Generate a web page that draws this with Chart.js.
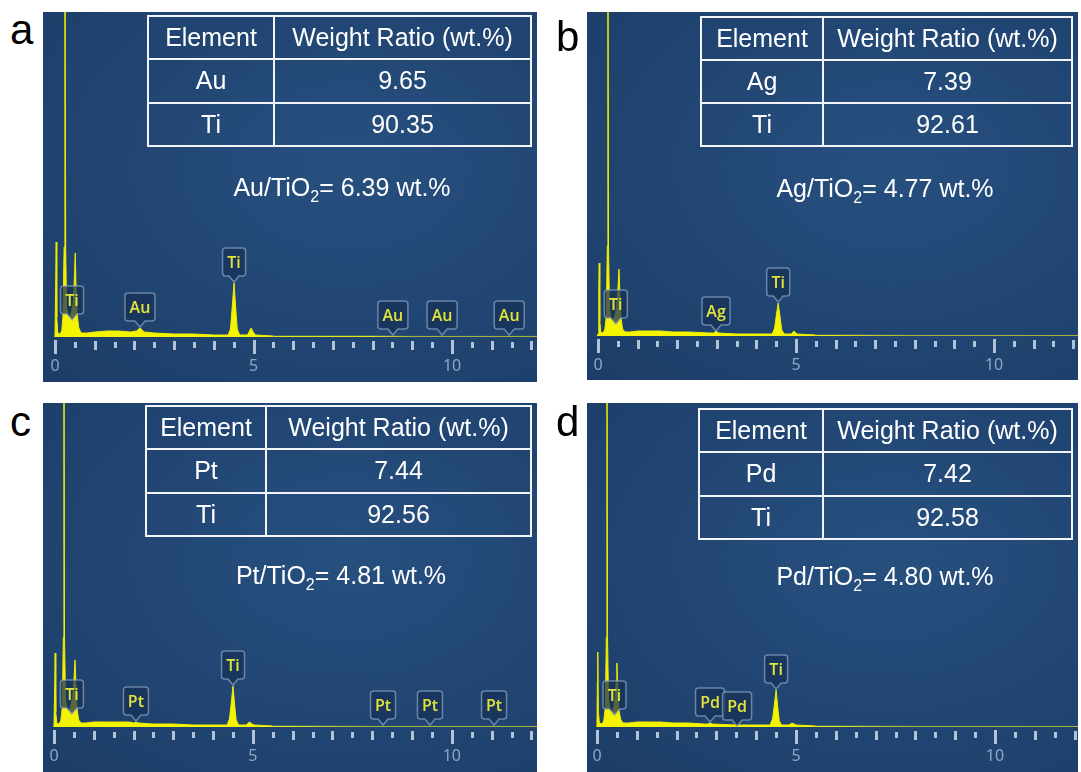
<!DOCTYPE html>
<html>
<head>
<meta charset="utf-8">
<script src="https://cdn.jsdelivr.net/npm/chart.js@4.4.1/dist/chart.umd.min.js"></script>
<style>
  html, body { margin: 0; padding: 0; background: #fff; }
  #page { position: relative; width: 1081px; height: 772px; overflow: hidden; font-family: "Liberation Sans", Arial, sans-serif; }
  .panel { position: absolute; background: radial-gradient(ellipse at 62% 42%, #27507f 0%, #224775 45%, #1c3d67 100%); }
  .panel canvas { position: absolute; left: 0; top: 0; }
  .letter { position: absolute; font-size: 42px; line-height: 42px; color: #000; }
  table.eds { position: absolute; border-collapse: collapse; color: #fff; font-size: 25px; table-layout: fixed; }
  table.eds td { border: 2px solid #f2f4f7; text-align: center; padding: 0; white-space: nowrap; }
  .formula { position: absolute; color: #fff; font-size: 25px; line-height: 25px; white-space: nowrap; transform: translate(-50%, -50%); }
  .formula sub { font-size: 16px; vertical-align: -6px; line-height: 0; }
</style>
</head>
<body>
<div id="page"></div>
<script>
// ---- data (energy in keV, counts in arbitrary units) ----
const energyA = [-0.02, 0.0, 0.02, 0.03, 0.045, 0.07, 0.12, 0.17, 0.2, 0.23, 0.25, 0.27, 0.29, 0.33, 0.38, 0.42, 0.46, 0.49, 0.51, 0.53, 0.56, 0.6, 0.66, 0.8, 1.0, 1.3, 1.6, 1.9, 2.05, 2.14, 2.25, 2.5, 3.0, 3.5, 4.0, 4.36, 4.42, 4.46, 4.51, 4.55, 4.59, 4.65, 4.85, 4.9, 4.94, 4.99, 5.05, 5.5, 6.0, 7.0, 8.0, 9.0, 10.0, 11.0, 12.2];
const countsA = [0, 2, 60, 95, 20, 4, 3, 6, 20, 90, 420, 90, 30, 22, 20, 26, 34, 60, 84, 50, 22, 9, 4, 4, 5, 6, 6, 5, 6, 9, 5, 4, 3, 3, 2, 2, 8, 28, 54, 30, 8, 2, 2, 6, 9, 5, 2, 1, 1, 1, 1, 0.6, 0.6, 0.6, 0.6];

const energyB = [-0.02, 0.0, 0.02, 0.03, 0.045, 0.07, 0.12, 0.17, 0.21, 0.235, 0.25, 0.265, 0.29, 0.33, 0.38, 0.42, 0.47, 0.5, 0.53, 0.555, 0.58, 0.62, 0.68, 0.8, 1.0, 1.3, 1.6, 1.9, 2.3, 2.8, 2.92, 2.98, 3.05, 3.5, 4.0, 4.4, 4.46, 4.5, 4.55, 4.6, 4.64, 4.7, 4.88, 4.95, 5.02, 5.5, 6.0, 7.0, 8.0, 10.0, 12.2];
const countsB = [0, 2, 45, 73, 15, 4, 3, 6, 20, 90, 420, 90, 28, 17, 15, 20, 28, 45, 67, 40, 18, 7, 4, 4, 5, 5, 5, 4, 4, 3, 3, 5, 3, 2, 2, 2, 8, 20, 33, 18, 6, 2, 2, 5, 2, 1, 1, 0.8, 0.6, 0.6, 0.6];

const energyC = [-0.02, 0.0, 0.02, 0.03, 0.045, 0.07, 0.12, 0.17, 0.21, 0.235, 0.25, 0.265, 0.29, 0.33, 0.38, 0.42, 0.47, 0.5, 0.53, 0.555, 0.58, 0.62, 0.68, 0.8, 1.0, 1.3, 1.6, 1.9, 2.0, 2.06, 2.13, 2.5, 3.0, 3.5, 4.0, 4.35, 4.41, 4.45, 4.5, 4.54, 4.58, 4.64, 4.84, 4.88, 4.92, 4.97, 5.03, 5.5, 6.0, 7.0, 8.0, 10.0, 12.2];
const countsC = [0, 2, 45, 74, 15, 4, 3, 6, 20, 90, 420, 90, 28, 18, 16, 21, 30, 46, 67, 40, 18, 7, 4, 4, 5, 5, 5, 5, 4, 5, 4, 3, 3, 2, 2, 2, 8, 22, 41, 22, 7, 2, 2, 4, 5, 3, 2, 1, 1, 0.8, 0.6, 0.6, 0.6];

const energyD = [-0.02, 0.0, 0.01, 0.02, 0.035, 0.06, 0.12, 0.17, 0.21, 0.235, 0.25, 0.265, 0.29, 0.33, 0.38, 0.42, 0.45, 0.48, 0.5, 0.525, 0.55, 0.6, 0.66, 0.8, 1.0, 1.3, 1.6, 1.9, 2.3, 2.7, 2.78, 2.84, 2.9, 3.5, 4.0, 4.35, 4.41, 4.45, 4.5, 4.54, 4.58, 4.64, 4.82, 4.86, 4.9, 4.95, 5.01, 5.5, 6.0, 7.0, 8.0, 10.0, 12.2];
const countsD = [0, 2, 45, 75, 15, 4, 3, 6, 20, 90, 420, 90, 28, 17, 15, 20, 28, 44, 64, 38, 17, 7, 4, 4, 5, 5, 5, 4, 4, 3, 3, 4, 3, 2, 2, 2, 8, 20, 37, 20, 6, 2, 2, 3, 4, 3, 2, 1, 1, 0.8, 0.6, 0.6, 0.6];

// peak markers: element, energy of the pointer, counts at the pointer tip
const markNamesA = ['Ti', 'Au', 'Ti', 'Au', 'Au', 'Au'];
const markEnergyA = [0.43, 2.14, 4.51, 8.51, 9.75, 11.44];
const markCountsA = [16, 9, 54, 1, 1, 1];
const markNamesB = ['Ti', 'Ag', 'Ti'];
const markEnergyB = [0.45, 2.98, 4.55];
const markCountsB = [11, 4, 33];
const markNamesC = ['Ti', 'Pt', 'Ti', 'Pt', 'Pt', 'Pt'];
const markEnergyC = [0.45, 2.06, 4.5, 8.27, 9.45, 11.06];
const markCountsC = [12, 5, 41, 1, 1, 1];
const markNamesD = ['Ti', 'Pd', 'Pd', 'Ti'];
const markEnergyD = [0.44, 2.84, 3.52, 4.5];
const markCountsD = [11, 4, 0, 37];

// tables
const elementsA = ['Au', 'Ti'], weightsA = ['9.65', '90.35'], loadingA = '6.39';
const elementsB = ['Ag', 'Ti'], weightsB = ['7.39', '92.61'], loadingB = '4.77';
const elementsC = ['Pt', 'Ti'], weightsC = ['7.44', '92.56'], loadingC = '4.81';
const elementsD = ['Pd', 'Ti'], weightsD = ['7.42', '92.58'], loadingD = '4.80';

const axisLabels = [0, 5, 10];

// ---- layout ----
const panels = [
  { letter: 'a', lx: 10, ly: 45, left: 43, top: 12, w: 494, h: 370, plotH: 325, xMin: -0.302, xMax: 12.14,
    energy: energyA, counts: countsA, names: markNamesA, markE: markEnergyA, markC: markCountsA,
    tbl: { left: 147, top: 15, w: 385, h: 132, c1: 126 }, elements: elementsA, weights: weightsA, loading: loadingA, fx: 342, fy: 187 },
  { letter: 'b', lx: 556, ly: 52, left: 587, top: 12, w: 491, h: 368, plotH: 324, xMin: -0.278, xMax: 12.12,
    energy: energyB, counts: countsB, names: markNamesB, markE: markEnergyB, markC: markCountsB,
    tbl: { left: 700, top: 16, w: 373, h: 131, c1: 122 }, elements: elementsB, weights: weightsB, loading: loadingB, fx: 885, fy: 188 },
  { letter: 'c', lx: 10, ly: 437, left: 43, top: 403, w: 494, h: 369, plotH: 324, xMin: -0.276, xMax: 12.14,
    energy: energyC, counts: countsC, names: markNamesC, markE: markEnergyC, markC: markCountsC,
    tbl: { left: 145, top: 405, w: 387, h: 132, c1: 120 }, elements: elementsC, weights: weightsC, loading: loadingC, fx: 341, fy: 575 },
  { letter: 'd', lx: 556, ly: 437, left: 587, top: 403, w: 491, h: 369, plotH: 324, xMin: -0.251, xMax: 12.085,
    energy: energyD, counts: countsD, names: markNamesD, markE: markEnergyD, markC: markCountsD,
    tbl: { left: 698, top: 408, w: 375, h: 132, c1: 124 }, elements: elementsD, weights: weightsD, loading: loadingD, fx: 885, fy: 576 }
];

// tick marks every 0.5 keV under the spectrum, longer at whole and 5 keV
const tickMarks = {
  id: 'tickMarks',
  afterDraw(chart) {
    const ctx = chart.ctx, xs = chart.scales.x, y0 = chart.chartArea.bottom + 4;
    ctx.save();
    ctx.fillStyle = '#b3c2d6';
    for (let i = 0; i / 2 <= xs.max; i++) {
      const v = i / 2, px = Math.round(xs.getPixelForValue(v));
      if (v % 5 === 0) ctx.fillRect(px - 1, y0 - 1, 3, 14);
      else if (v % 1 === 0) ctx.fillRect(px - 1, y0, 3, 9);
      else ctx.fillRect(px - 1, y0 + 1, 3, 6);
    }
    ctx.restore();
  }
};

// element callouts with a pointer down to the peak
const peakMarkers = {
  id: 'peakMarkers',
  afterDatasetsDraw(chart, args, opts) {
    const ctx = chart.ctx, xs = chart.scales.x, ys = chart.scales.y;
    ctx.save();
    ctx.font = '600 16px "Open Sans", sans-serif';
    ctx.textAlign = 'center';
    ctx.textBaseline = 'middle';
    opts.names.forEach((name, i) => {
      const tx = xs.getPixelForValue(opts.energy[i]);
      const ty = ys.getPixelForValue(opts.counts[i]) - 1;
      const bw = Math.round(ctx.measureText(name).width + 9), bh = 28;
      const bx = tx - bw / 2, bb = ty - 6, bt = bb - bh, r = 3;
      ctx.beginPath();
      ctx.moveTo(bx + r, bt);
      ctx.lineTo(bx + bw - r, bt);
      ctx.quadraticCurveTo(bx + bw, bt, bx + bw, bt + r);
      ctx.lineTo(bx + bw, bb - r);
      ctx.quadraticCurveTo(bx + bw, bb, bx + bw - r, bb);
      ctx.lineTo(tx + 5, bb);
      ctx.lineTo(tx, ty);
      ctx.lineTo(tx - 5, bb);
      ctx.lineTo(bx + r, bb);
      ctx.quadraticCurveTo(bx, bb, bx, bb - r);
      ctx.lineTo(bx, bt + r);
      ctx.quadraticCurveTo(bx, bt, bx + r, bt);
      ctx.closePath();
      ctx.fillStyle = 'rgba(22, 48, 86, 0.72)';
      ctx.fill();
      ctx.strokeStyle = 'rgba(140, 164, 194, 0.7)';
      ctx.lineWidth = 1.5;
      ctx.stroke();
      ctx.fillStyle = '#e4e43a';
      ctx.fillText(name, tx, bt + bh / 2 + 1);
    });
    ctx.restore();
  }
};

const page = document.getElementById('page');

panels.forEach(p => {
  const div = document.createElement('div');
  div.className = 'panel';
  Object.assign(div.style, { left: p.left + 'px', top: p.top + 'px', width: p.w + 'px', height: p.h + 'px' });
  const canvas = document.createElement('canvas');
  canvas.width = p.w;
  canvas.height = p.h;
  div.appendChild(canvas);
  page.appendChild(div);

  new Chart(canvas.getContext('2d'), {
    type: 'line',
    data: {
      datasets: [{
        data: p.energy.map((e, i) => ({ x: e, y: p.counts[i] })),
        borderColor: '#eeee00',
        backgroundColor: '#f4f400',
        borderWidth: 1,
        fill: 'origin',
        pointRadius: 0,
        tension: 0,
        segment: {
          // the flat tail of the spectrum shows only as a faint line
          borderColor: c => c.p0.parsed.x >= 5.5 ? 'rgba(190, 200, 70, 0.55)' : undefined
        }
      }]
    },
    options: {
      responsive: false,
      animation: false,
      events: [],
      layout: { padding: 0, autoPadding: false },
      plugins: {
        legend: { display: false },
        tooltip: { enabled: false },
        peakMarkers: { names: p.names, energy: p.markE, counts: p.markC }
      },
      scales: {
        x: {
          type: 'linear',
          min: p.xMin,
          max: p.xMax,
          grid: { display: true, drawOnChartArea: false, drawTicks: true, tickLength: 20, tickColor: 'rgba(0,0,0,0)' },
          border: { display: false },
          afterBuildTicks: s => { s.ticks = axisLabels.map(v => ({ value: v })); },
          afterFit: s => { s.height = p.h - p.plotH; },
          ticks: {
            color: '#8fa6c5',
            font: { family: '"Noto Sans", sans-serif', size: 16 },
            padding: 0,
            maxRotation: 0,
            autoSkip: false
          }
        },
        y: { display: false, min: 0, max: p.plotH }
      }
    },
    plugins: [tickMarks, peakMarkers]
  });

  const letter = document.createElement('div');
  letter.className = 'letter';
  letter.textContent = p.letter;
  Object.assign(letter.style, { left: p.lx + 'px', top: (p.ly - 36) + 'px' });
  page.appendChild(letter);

  const t = p.tbl;
  const table = document.createElement('table');
  table.className = 'eds';
  Object.assign(table.style, { left: t.left + 'px', top: t.top + 'px', width: t.w + 'px', height: t.h + 'px' });
  const rows = [['Element', 'Weight Ratio (wt.%)']].concat(p.elements.map((el, i) => [el, p.weights[i]]));
  table.innerHTML = '<colgroup><col style="width:' + t.c1 + 'px"><col></colgroup>' +
    rows.map(r => '<tr><td>' + r[0] + '</td><td>' + r[1] + '</td></tr>').join('');
  page.appendChild(table);

  const f = document.createElement('div');
  f.className = 'formula';
  f.innerHTML = p.elements[0] + '/TiO<sub>2</sub>= ' + p.loading + ' wt.%';
  Object.assign(f.style, { left: p.fx + 'px', top: p.fy + 'px' });
  page.appendChild(f);
});
</script>
</body>
</html>
